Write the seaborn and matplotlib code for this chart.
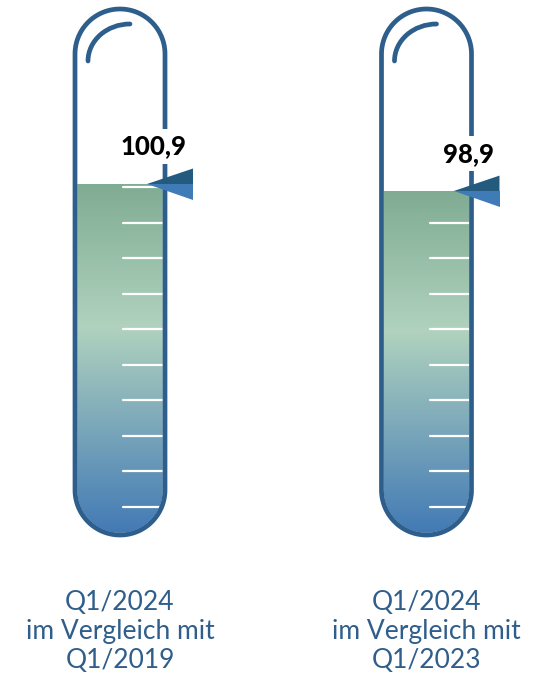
import matplotlib.pyplot as plt
import numpy as np
import seaborn as sns
from matplotlib.colors import LinearSegmentedColormap
from matplotlib.patches import Arc, PathPatch, Polygon
from matplotlib.path import Path

# data
periods = ["Q1/2024\nim Vergleich mit\nQ1/2019", "Q1/2024\nim Vergleich mit\nQ1/2023"]
values = [100.9, 98.9]
value_labels = ["100,9", "98,9"]
scale_ticks = [10, 20, 30, 40, 50, 60, 70, 80, 90, 100]

sns.set_theme(style="white")
plt.rcParams["font.family"] = ["Lato", "DejaVu Sans"]

BORDER = "#2E5E8B"
LABEL = "#2F5E8A"
ARROW_DARK = "#245A7E"
ARROW_LIGHT = "#3F7BB6"
fill_cmap = LinearSegmentedColormap.from_list(
    "fill", [(0.0, "#427AB5"), (0.59, "#B0D2BE"), (1.0, "#80AC93")]
)

# layout: one value unit = K pixels in both directions
K = 3.55
Y0 = 542.2  # pixel row of value 0


def px(x):
    return x / K


def py(y):
    return (Y0 - y) / K


def tube_path(cx, r, top_c, bot_c):
    a = np.linspace(0, np.pi, 80)
    top = np.column_stack([cx + r * np.cos(a), top_c + r * np.sin(a)])
    bot = np.column_stack([cx - r * np.cos(a), bot_c - r * np.sin(a)])
    return Path(np.vstack([top, bot, top[:1]]), closed=True)


fig = plt.figure(figsize=(5.52, 6.83), dpi=100)
ax = fig.add_axes([0, 0, 1, 1])

centers = [px(120), px(426.5)]
inner_w = px(86)
sns.barplot(
    x=centers,
    y=values,
    native_scale=True,
    width=inner_w / (centers[1] - centers[0]),
    errorbar=None,
    ax=ax,
)

r_out = px(45)
r_in = px(42.8)
top_c = py(54)
bot_c = py(490)
ramp = np.linspace(0, 1, 256).reshape(-1, 1)

for bar, cx, val, lab, period in zip(ax.patches, centers, values, value_labels, periods):
    bar.set_visible(False)
    x0 = bar.get_x()
    w = bar.get_width()
    h = bar.get_height()

    inner = PathPatch(tube_path(cx, r_in, top_c, bot_c), fc="none", ec="none")
    ax.add_patch(inner)
    img = ax.imshow(
        ramp,
        cmap=fill_cmap,
        origin="lower",
        extent=[x0, x0 + w, bot_c - r_in, h],
        aspect="auto",
        zorder=1,
    )
    img.set_clip_path(inner)

    for t in scale_ticks:
        if t <= val:
            ax.plot([cx + px(3), cx + px(43)], [t, t], color="white", lw=1.6, zorder=2)

    ax.add_patch(
        PathPatch(tube_path(cx, r_out, top_c, bot_c), fc="none", ec=BORDER, lw=3.4, zorder=3)
    )
    ax.add_patch(
        Arc((cx + px(10), py(61)), px(84), px(74), theta1=90, theta2=180,
            color=BORDER, lw=3.4, capstyle="round", zorder=3)
    )

    tip = (cx + px(27), val)
    base_x = cx + px(73)
    ax.add_patch(Polygon([tip, (base_x, val + px(15.5)), (base_x, val)],
                         closed=True, fc=ARROW_DARK, ec="none", zorder=5))
    ax.add_patch(Polygon([tip, (base_x, val), (base_x, val - px(16))],
                         closed=True, fc=ARROW_LIGHT, ec="none", zorder=5))

    ax.text(cx + px(67), val + px(37.5), lab, ha="right", va="center",
            fontsize=18.5, fontweight="black", color="black", zorder=4,
            bbox=dict(fc="white", ec="none", pad=4))

    ax.text(cx, py(632), period, ha="center", va="center", fontsize=19,
            color=LABEL, linespacing=1.2)

ax.set_xlim(0, px(552))
ax.set_ylim(py(683), py(0))
ax.axis("off")

fig.savefig("out.png", dpi=100)
